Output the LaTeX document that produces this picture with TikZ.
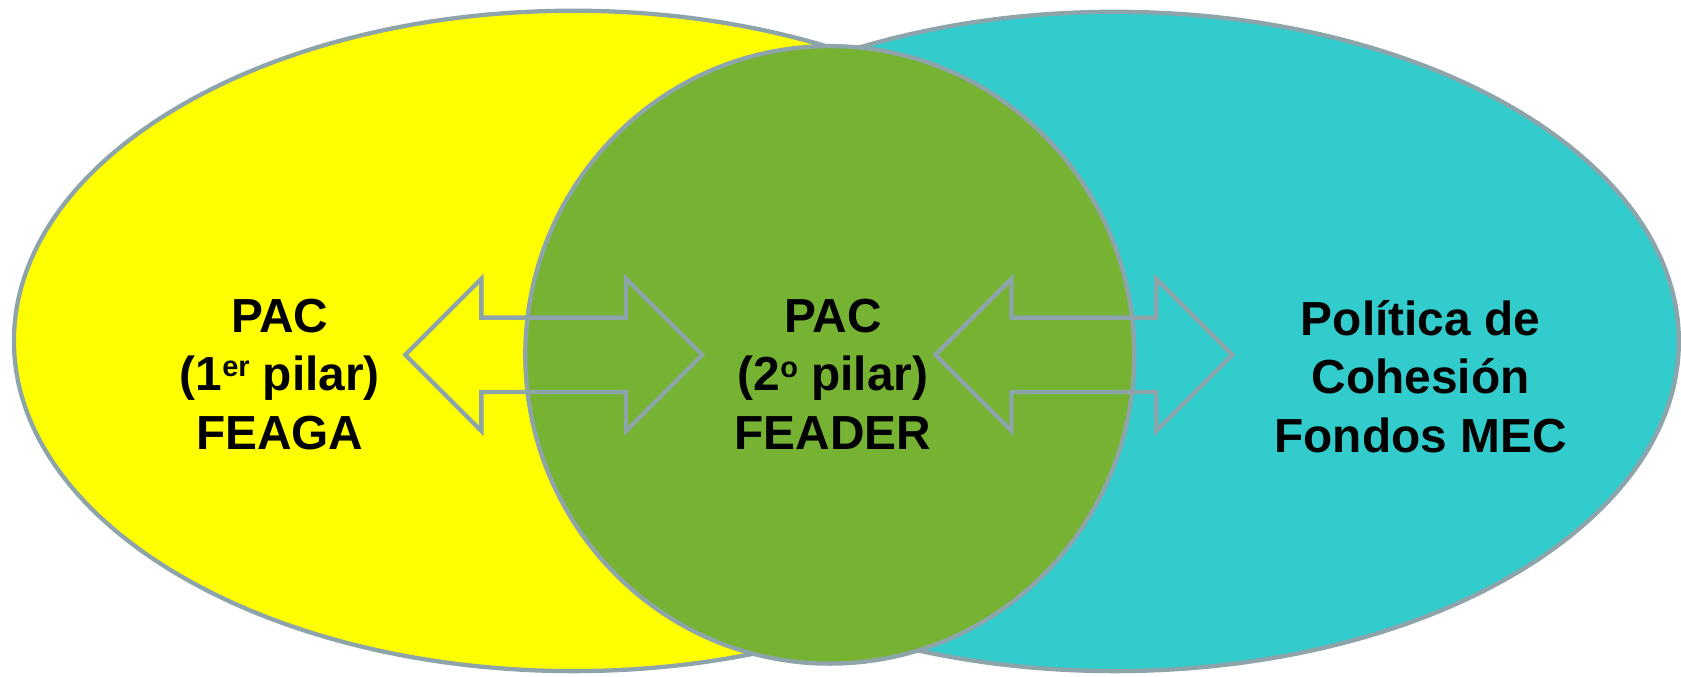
\documentclass[tikz,border=0pt]{standalone}
\usepackage{fontspec}
\setmainfont{Liberation Sans}
\usepackage{tikz}
\usepackage{xcolor}
\usetikzlibrary{
    shapes.arrows,
    positioning
}
\definecolor{pacyellow}{RGB}{255,255,0}
\definecolor{cohesioncyan}{RGB}{51,204,204}
\definecolor{feadergreen}{RGB}{119,179,51}
\definecolor{rimgrey}{RGB}{140,164,170}
\newcommand{\ordsup}[1]{\raisebox{12.8pt}{\fontsize{27pt}{27pt}\selectfont #1}}

\begin{document}
\begin{tikzpicture}[x=1pt, y=-1pt, line width=4pt,
    venntext/.style={font=\fontsize{44.6pt}{54.5pt}\selectfont\bfseries, align=center, inner sep=0pt},
    linkarrow/.style={double arrow, draw=rimgrey, minimum height=277pt, minimum width=142pt,
        double arrow head extend=35.5pt, double arrow tip angle=90, inner xsep=0pt, inner ysep=32pt}]
                                \useasboundingbox (0, 0) rectangle (1568, 631);
                                % the three sets
                                \draw[fill=pacyellow, draw=rimgrey] (535, 318) ellipse [x radius=522, y radius=308];
                                \draw[fill=cohesioncyan, draw=rimgrey] (1040, 318.5) ellipse [x radius=526, y radius=307.5];
                                \draw[fill=feadergreen, draw=rimgrey] (774, 331) ellipse [x radius=284, y radius=288];
                                % links between them
                                \node[linkarrow] (leftlink) at (516.5, 331) {};
                                \node[linkarrow] (rightlink) at (1011, 331) {};
                                \node[venntext] (feaga) at (261, 349) {PAC\\(1\ordsup{er} pilar)\\FEAGA};
                                \node[venntext] (feader) at (777, 349) {PAC\\(2\ordsup{o} pilar)\\FEADER};
                                \node[venntext] (mec) at (1325, 351) {Política de\\Cohesión\\Fondos MEC};
                            \end{tikzpicture}
\end{document}
